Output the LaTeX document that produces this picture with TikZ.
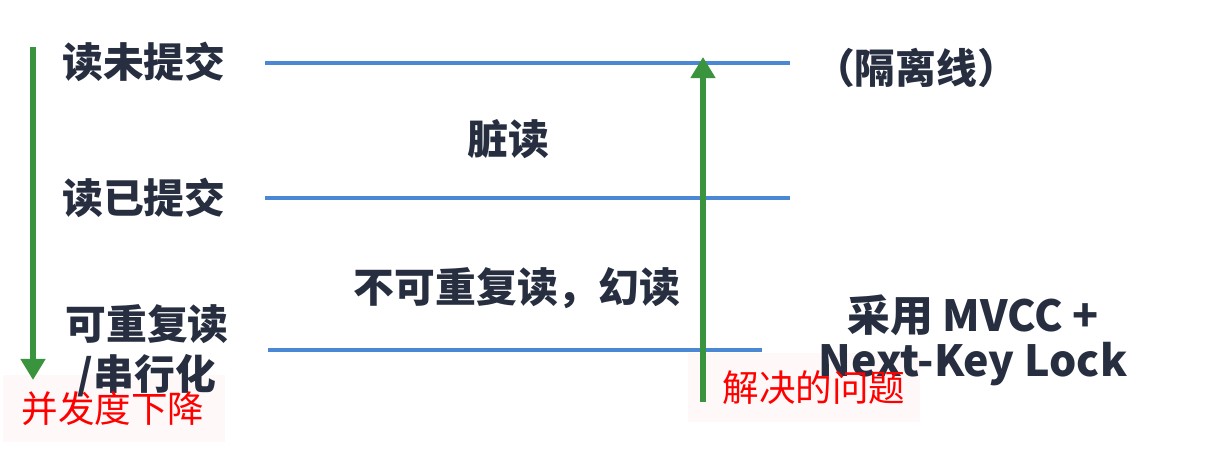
\documentclass[tikz,border=0pt]{standalone}
\usepackage{fontspec}
\setmainfont{Noto Sans CJK SC}
\usetikzlibrary{arrows.meta}
\definecolor{txtdark}{RGB}{38,46,64}
\definecolor{lineblue}{RGB}{74,136,212}
\definecolor{arrgreen}{RGB}{58,148,62}
\definecolor{bgpink}{RGB}{255,248,248}

\begin{document}
\begin{tikzpicture}[x=0.025cm,y=-0.025cm,
  lvl/.style={font=\fontsize{29}{35.6}\selectfont\bfseries,text=txtdark,align=center,inner sep=0pt},
  note/.style={font=\fontsize{26}{30}\selectfont,text=red,inner sep=0pt},
  isoline/.style={lineblue,line width=2.8pt},
  trend/.style={arrgreen,line width=3.6pt,-{Triangle[length=15pt,width=17pt]}}]
\useasboundingbox (0,0) rectangle (1206,452);
\fill[white] (0,0) rectangle (1206,452);
\fill[bgpink] (3,375) rectangle (225,442);
\fill[bgpink] (688,353) rectangle (920,422);

\coordinate (l1a) at (265,63);
\coordinate (l1b) at (790,63);
\coordinate (l2a) at (265,198);
\coordinate (l2b) at (790,198);
\coordinate (l3a) at (268,350);
\coordinate (l3b) at (762,350);
\draw[isoline] (l1a) -- (l1b);
\draw[isoline] (l2a) -- (l2b);
\draw[isoline] (l3a) -- (l3b);

\coordinate (downtop) at (33,47);
\coordinate (downend) at (33,380);
\coordinate (uptop) at (703,57);
\coordinate (upend) at (703,402);
\draw[trend] (downtop) -- (downend);
\draw[trend] (upend) -- (uptop);

\node[lvl] (ru) at (144,62) {读未提交};
\node[lvl] (rc) at (144,198) {读已提交};
\node[lvl] (rr) at (147,351) {可重复读\\/串行化};
\node[lvl] (dirty) at (508,139) {脏读};
\node[lvl] (phantom) at (517,288) {不可重复读，幻读};
\node[lvl] (isolbl) at (916,68) {（隔离线）};
\node[lvl,font=\fontsize{30.5}{32}\selectfont\bfseries] (fix) at (973,340) {采用 MVCC +\\Next-Key Lock};
\node[note] (downlbl) at (113,409) {并发度下降};
\node[note] (solvedlbl) at (814,388) {解决的问题};
\end{tikzpicture}
\end{document}
